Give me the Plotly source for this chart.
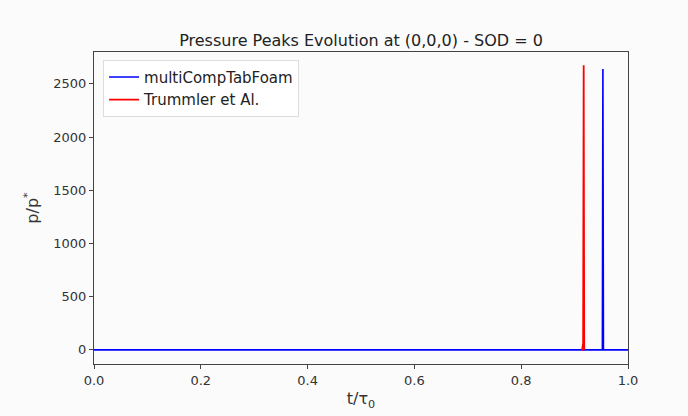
import plotly.graph_objects as go

# Data
blue_t = [0.0, 0.950, 0.952, 0.953, 0.954, 1.0]
blue_p = [0.0, 0.0, 0.0, 2640.0, 0.0, 0.0]
red_t = [0.912, 0.914, 0.916, 0.917, 0.918]
red_p = [0.0, 0.0, 60.0, 2675.0, 0.0]

x_ticks = [0.0, 0.2, 0.4, 0.6, 0.8, 1.0]
y_ticks = [0, 500, 1000, 1500, 2000, 2500]

fig = go.Figure()
fig.add_trace(go.Scatter(x=blue_t, y=blue_p, mode="lines", name="multiCompTabFoam",
                         line=dict(color="#0000ff", width=1.6)))
fig.add_trace(go.Scatter(x=red_t, y=red_p, mode="lines", name="Trummler et Al.",
                         line=dict(color="#ff0000", width=1.8)))

axis_common = dict(showgrid=False, zeroline=False, showline=True, linecolor="#444",
                   linewidth=1, mirror=True, ticks="outside", ticklen=4, tickcolor="#444",
                   tickfont=dict(family="DejaVu Sans", size=13, color="#333"))

fig.update_layout(
    width=688, height=416,
    margin=dict(l=94, r=60, t=52, b=52),
    paper_bgcolor="#fbfbfb", plot_bgcolor="#fbfbfb",
    title=dict(text="Pressure Peaks Evolution at (0,0,0) - SOD = 0", x=(94 + 628) / 2 / 688,
               xanchor="center", y=1 - 40/416, yanchor="middle",
               font=dict(family="DejaVu Sans", size=16, color="#222")),
    xaxis=dict(range=[0, 1], tickvals=x_ticks, ticktext=[f"{v:.1f}" for v in x_ticks],
               title=dict(text="t/τ<sub>0</sub>", font=dict(family="DejaVu Sans", size=16, color="#333"),
                          standoff=6),
               **axis_common),
    yaxis=dict(range=[-133, 2800], tickvals=y_ticks, ticktext=[str(v) for v in y_ticks],
               title=dict(text="p/p<sup>*</sup>", font=dict(family="DejaVu Sans", size=16, color="#333"),
                          standoff=10),
               **axis_common),
    legend=dict(x=0.017, y=0.975, xanchor="left", yanchor="top",
                bgcolor="rgba(255,255,255,0.9)", bordercolor="#ddd", borderwidth=1,
                font=dict(family="DejaVu Sans", size=15, color="#222")),
    showlegend=True,
)

fig.write_html("out.html")
